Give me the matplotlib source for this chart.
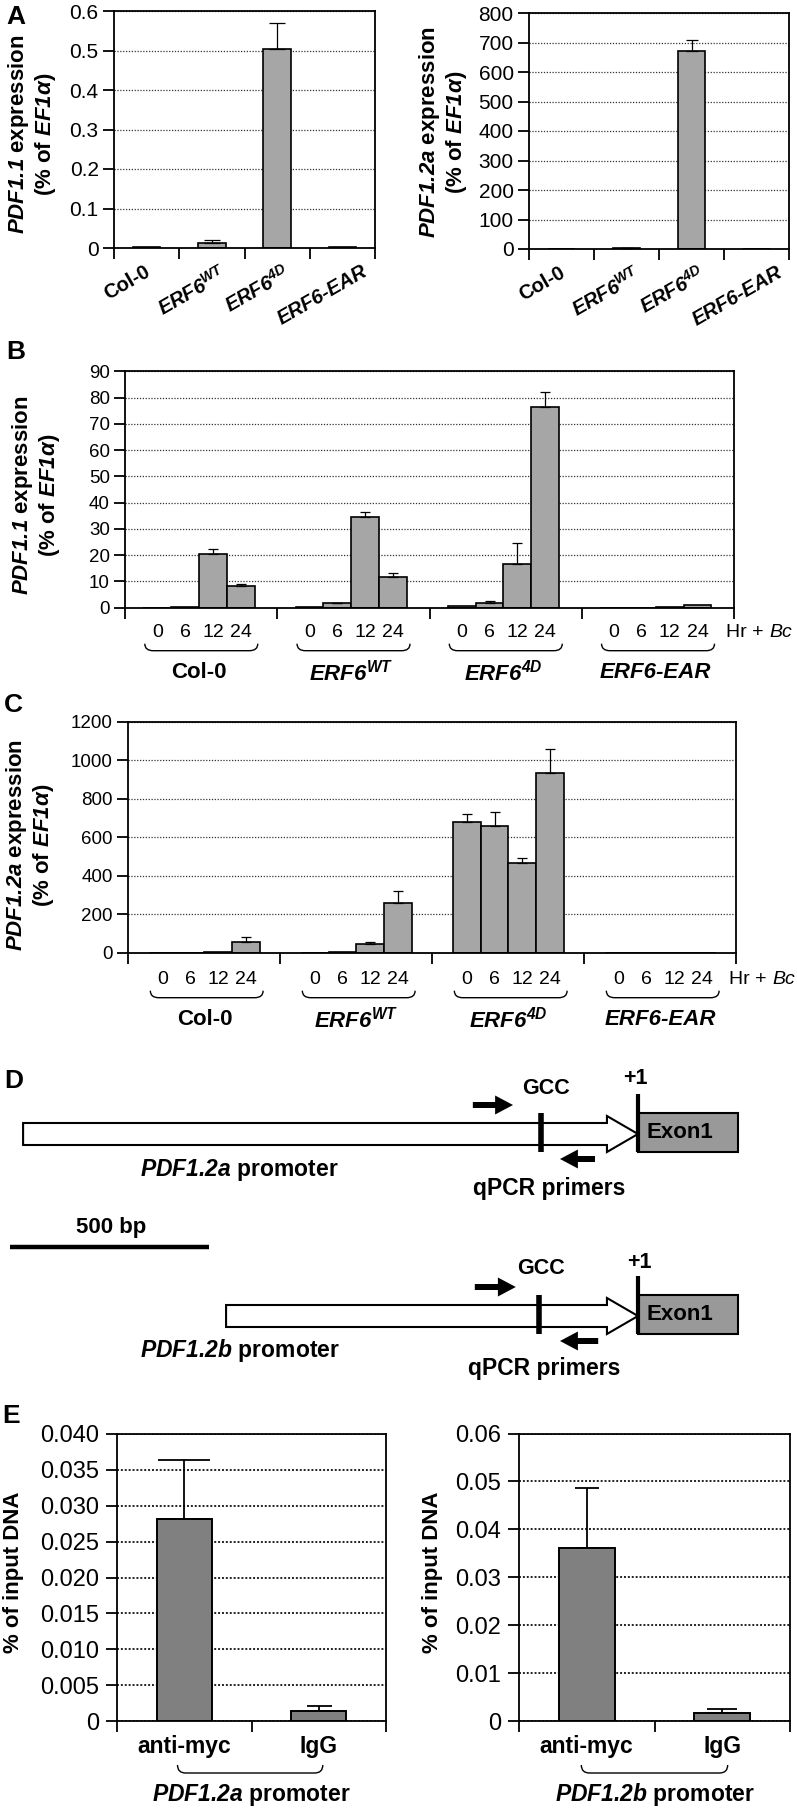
import numpy as np
import matplotlib
matplotlib.use('Agg')
import matplotlib.pyplot as plt
from matplotlib.patches import Polygon, Rectangle, FancyArrow, PathPatch
from matplotlib.path import Path
from matplotlib.transforms import Affine2D, blended_transform_factory
from matplotlib.ticker import FuncFormatter, MultipleLocator

plt.rcParams['font.family'] = ['Liberation Sans', 'DejaVu Sans']
# math parts are only used for the italic gene names -> bold italic everywhere
plt.rcParams['mathtext.fontset'] = 'custom'
plt.rcParams['mathtext.rm'] = 'Liberation Sans:bold:italic'
plt.rcParams['mathtext.it'] = 'Liberation Sans:bold:italic'
plt.rcParams['mathtext.bf'] = 'Liberation Sans:bold:italic'

W, H = 797, 1809

# ---- values ----
genotypes = ['Col-0', 'ERF6', 'ERF6', 'ERF6-EAR']
geno_sup = ['', 'WT', '4D', '']
hours = ['0', '6', '12', '24']

# A: uninfected plants
pdf11_a = [0.002, 0.013, 0.505, 0.002]
pdf11_a_err = [0, 0.006, 0.064, 0]
pdf12a_a = [0.5, 3, 672, 0.3]
pdf12a_a_err = [0, 1.5, 38, 0]

# B: PDF1.1 after Bc (rows = genotype, cols = hours)
pdf11_b = [[0, 0.3, 20.6, 8.3],
           [0.1, 1.6, 34.5, 11.8],
           [0.6, 1.9, 16.6, 76.6],
           [0, 0.05, 0.3, 1.1]]
pdf11_b_err = [[0, 0, 1.6, 0.7],
               [0, 0.3, 2.0, 1.3],
               [0, 0.5, 7.9, 5.7],
               [0, 0, 0, 0]]

# C: PDF1.2a after Bc
pdf12a_c = [[0, 0, 2, 57],
            [1, 2, 45, 258],
            [680, 660, 464, 932],
            [0, 0, 0, 0]]
pdf12a_c_err = [[0, 0, 0, 23],
                [0, 0, 9, 61],
                [39, 71, 26, 126],
                [0, 0, 0, 0]]

# D: promoter schematic, bp relative to +1
promoter_len = [1545, 1035]
gcc_pos = [-244, -249]
exon_len = 250
fwd_primer = [(-415, -314), (-410, -307)]
rev_primer = [(-108, -196), (-100, -196)]
scale_bp = 500

# E: ChIP
chip_labels = ['anti-myc', 'IgG']
chip_a = [0.0282, 0.00135]
chip_a_err = [0.0082, 0.0008]
chip_b = [0.0362, 0.0016]
chip_b_err = [0.0124, 0.0009]

BAR = '#a6a6a6'
BAR_E = '#808080'

fig = plt.figure(figsize=(W / 100, H / 100), dpi=100)
# reference-pixel coords (x right, y down)
px = Affine2D().scale(1 / W, -1 / H).translate(0, 1) + fig.transFigure


def add_ax(l, t, r, b):
    return fig.add_axes([l / W, 1 - b / H, (r - l) / W, (b - t) / H])


def frame(ax, step, tsize, fmt):
    ax.yaxis.set_major_locator(MultipleLocator(step))
    ax.yaxis.set_major_formatter(FuncFormatter(fmt))
    for s in ax.spines.values():
        s.set_linewidth(1.3)
    ax.tick_params(axis='both', direction='out', length=8, width=1.3,
                   labelsize=tsize, pad=3)
    ax.tick_params(axis='x', labelbottom=False)
    ax.yaxis.grid(True, linestyle=(0, (1, 1.3)), color='#333333', lw=0.9)
    ax.set_axisbelow(True)


def gfmt(v, _):
    return '0' if abs(v) < 1e-12 else f'{v:g}'


def draw_err(ax, xs, ys, es, caps, lw=0.9):
    caps = np.broadcast_to(caps, len(xs))
    for x, y, e, c in zip(xs, ys, es, caps):
        if e > 0:
            ax.errorbar([x], [y], yerr=[[0], [e]], fmt='none', ecolor='black',
                        elinewidth=lw, capsize=c, capthick=lw, zorder=3)


def geno_label(i):
    if geno_sup[i]:
        return r'$%s^{%s}$' % (genotypes[i], geno_sup[i]), 'normal'
    return genotypes[i], ('normal' if i == 0 else 'italic')


def brace(ax, x0, x1, y0, depth=7, c=0.055):
    trans = blended_transform_factory(ax.transData, px)
    verts = [(x0, y0), (x0, y0 + depth), (x0 + c, y0 + depth),
             (x1 - c, y0 + depth), (x1, y0 + depth), (x1, y0)]
    codes = [Path.MOVETO, Path.CURVE3, Path.CURVE3,
             Path.LINETO, Path.CURVE3, Path.CURVE3]
    ax.add_patch(PathPatch(Path(verts, codes), fill=False, lw=1.0,
                           transform=trans, clip_on=False))


def ylab(x, y, s, size=16):
    fig.text(x, y, s, transform=px, rotation=90, ha='center', va='center',
             ma='center', fontsize=size, fontweight='bold', linespacing=1.1)


lab_11 = r'$PDF1.1$ expression' + '\n' + r'(% of $EF1\alpha$)'
lab_12 = r'$PDF1.2a$ expression' + '\n' + r'(% of $EF1\alpha$)'

# ---- panel letters ----
for letter, (x, y) in zip('ABCDE', [(16, 17), (16, 352), (13, 705), (14, 1081), (11, 1416)]):
    fig.text(x, y, letter, transform=px, fontsize=19, fontweight='bold',
             ha='center', va='center')

# ---- A ----
for box, vals, errs, ymax, step, caps, lab, lxy in [
        ((114, 11, 375, 248), pdf11_a, pdf11_a_err, 0.6, 0.1, 6, lab_11, (32, 134)),
        ((529, 13, 789, 249), pdf12a_a, pdf12a_a_err, 800, 100, 4, lab_12, (443, 132))]:
    ax = add_ax(*box)
    x = np.arange(4)
    ax.bar(x, vals, width=0.42, color=BAR, edgecolor='black', lw=1.2, zorder=2)
    draw_err(ax, x, vals, errs, caps)
    frame(ax, step, 15, gfmt)
    ax.set_xlim(-0.5, 3.5)
    ax.set_ylim(0, ymax)
    ax.set_xticks(np.arange(-0.5, 4, 1))
    trans = blended_transform_factory(ax.transData, px)
    for i in range(4):
        s, st = geno_label(i)
        ax.text(i - 0.3, box[3] + 14, s, transform=trans, rotation=30,
                ha='center', va='top', fontsize=14.5, fontweight='bold', style=st)
    ylab(*lxy, lab)


# ---- B, C ----
def time_course(box, data, errs, ymax, step, off, lab, lxy, hour_dy, brace_dy, name_dy, hr_x):
    ax = add_ax(*box)
    bottom = box[3]
    data = np.asarray(data, float)
    errs = np.asarray(errs, float)
    bw = 0.183
    trans = blended_transform_factory(ax.transData, px)
    for g in range(4):
        xs = g + off + (np.arange(4) - 1.5) * bw
        ax.bar(xs, data[g], width=bw, color=BAR, edgecolor='black', lw=1.2, zorder=2)
        draw_err(ax, xs, data[g], errs[g], 3.8)
        for k in range(4):
            ax.text(xs[k], bottom + hour_dy, hours[k], transform=trans,
                    ha='center', va='center', fontsize=14)
        brace(ax, xs[0] - bw / 2 + 0.01, xs[-1] + bw / 2 + 0.02, bottom + brace_dy)
        s, st = geno_label(g)
        ax.text(g + off, bottom + name_dy, s, transform=trans, ha='center',
                va='center', fontsize=16, fontweight='bold', style=st)
    frame(ax, step, 13.5, gfmt)
    ax.set_xlim(0, 4)
    ax.set_ylim(0, ymax)
    ax.set_xticks(range(5))
    t1 = fig.text(hr_x, bottom + hour_dy, 'Hr +', transform=px, fontsize=14,
                  ha='left', va='center')
    ax.annotate('Bc', xy=(1, 0.5), xycoords=t1, xytext=(4, 0),
                textcoords='offset points', ha='left', va='center',
                fontsize=14, style='italic', annotation_clip=False)
    ylab(*lxy, lab)


time_course((125, 371.4, 734, 607.7), pdf11_b, pdf11_b_err, 90, 10, 0.486,
            lab_11, (36, 495), 25, 36, 65, 726)
time_course((128, 721.5, 736, 952.7), pdf12a_c, pdf12a_c_err, 1200, 200, 0.503,
            lab_12, (30, 845), 27, 38, 67, 729)

# ---- D ----
px_per_bp = 199 / scale_bp
tss_px = 638
ax_d = add_ax(0, 1060, W, 1390)
ax_d.set_xlim(-tss_px / px_per_bp, (W - tss_px) / px_per_bp)
ax_d.set_ylim(1390, 1060)
ax_d.axis('off')
rows = [1134, 1316]
names = [r'$PDF1.2a$ promoter', r'$PDF1.2b$ promoter']
name_xy = [(239, 1170), (240, 1350)]
qpcr_xy = [(549, 1188), (544, 1368)]
gcc_xy = [(546, 1088), (541, 1268)]
plus_xy = [(635, 1078), (639, 1263)]
for i, y in enumerate(rows):
    L = promoter_len[i]
    hl = 78
    poly = [(-L, y - 11), (-hl, y - 11), (-hl, y - 18), (0, y),
            (-hl, y + 18), (-hl, y + 11), (-L, y + 11)]
    ax_d.add_patch(Polygon(poly, closed=True, fc='white', ec='black', lw=1.5))
    ax_d.add_patch(Rectangle((0, y - 21), exon_len, 39, fc='#999999',
                             ec='black', lw=1.5))
    ax_d.plot([0, 0], [y - 40, y + 18], color='black', lw=3, solid_capstyle='butt')
    ax_d.plot([gcc_pos[i]] * 2, [y - 21, y + 18], color='black', lw=4,
              solid_capstyle='butt')
    f0, f1 = fwd_primer[i]
    ax_d.add_patch(FancyArrow(f0, y - 29, f1 - f0, 0, width=6, head_width=19,
                              head_length=45, length_includes_head=True,
                              fc='black', ec='black', lw=0))
    r0, r1 = rev_primer[i]
    ax_d.add_patch(FancyArrow(r0, y + 25, r1 - r0, 0, width=6, head_width=19,
                              head_length=45, length_includes_head=True,
                              fc='black', ec='black', lw=0))
    ax_d.text(exon_len / 2 - 20, y - 1, 'Exon1', fontsize=16, fontweight='bold',
              ha='center', va='center')
    fig.text(*name_xy[i], names[i], transform=px, fontsize=16.5,
             fontweight='bold', ha='center', va='center')
    fig.text(*qpcr_xy[i], 'qPCR primers', transform=px, fontsize=16.5,
             fontweight='bold', ha='center', va='center')
    fig.text(*gcc_xy[i], 'GCC', transform=px, fontsize=15.5,
             fontweight='bold', ha='center', va='center')
    fig.text(*plus_xy[i], '+1', transform=px, fontsize=15.5,
             fontweight='bold', ha='center', va='center')

sb0 = (10 - tss_px) / px_per_bp
ax_d.plot([sb0, sb0 + scale_bp], [1247, 1247], color='black', lw=3.2,
          solid_capstyle='butt')
fig.text(111, 1228, f'{scale_bp} bp', transform=px, fontsize=16,
         fontweight='bold', ha='center', va='center')


# ---- E ----
def e3(v, _):
    return '0' if abs(v) < 1e-12 else f'{v:.3f}'


def e2(v, _):
    return '0' if abs(v) < 1e-12 else f'{v:.2f}'


for box, vals, errs, ymax, step, fmt, caps, prom, lx, bx in [
        ((117, 1434, 386, 1721), chip_a, chip_a_err, 0.040, 0.005, e3, [19, 9],
         r'$PDF1.2a$ promoter', 14, (-0.05, 1.03)),
        ((519, 1433.5, 790, 1721), chip_b, chip_b_err, 0.06, 0.01, e2, [8.3, 11],
         r'$PDF1.2b$ promoter', 433, (-0.04, 1.04))]:
    ax = add_ax(*box)
    x = np.arange(2)
    ax.bar(x, vals, width=0.41, color=BAR_E, edgecolor='black', lw=1.4, zorder=2)
    draw_err(ax, x, vals, errs, caps, lw=1.3)
    frame(ax, step, 17, fmt)
    ax.tick_params(axis='y', pad=5)
    ax.yaxis.grid(True, linestyle=(0, (1, 1)), color='#222222', lw=1.4)
    ax.set_xlim(-0.5, 1.5)
    ax.set_ylim(0, ymax)
    ax.set_xticks([-0.5, 0.5, 1.5])
    trans = blended_transform_factory(ax.transData, px)
    for i in range(2):
        ax.text(i, 1747, chip_labels[i], transform=trans, ha='center',
                va='center', fontsize=16.5, fontweight='bold')
    brace(ax, bx[0], bx[1], 1765, depth=8, c=0.06)
    ax.text(0.5, 1795, prom, transform=trans, ha='center', va='center',
            fontsize=16.5, fontweight='bold')
    ylab(lx, 1572, '% of input DNA', 16)

fig.savefig('out.png', dpi=100)
